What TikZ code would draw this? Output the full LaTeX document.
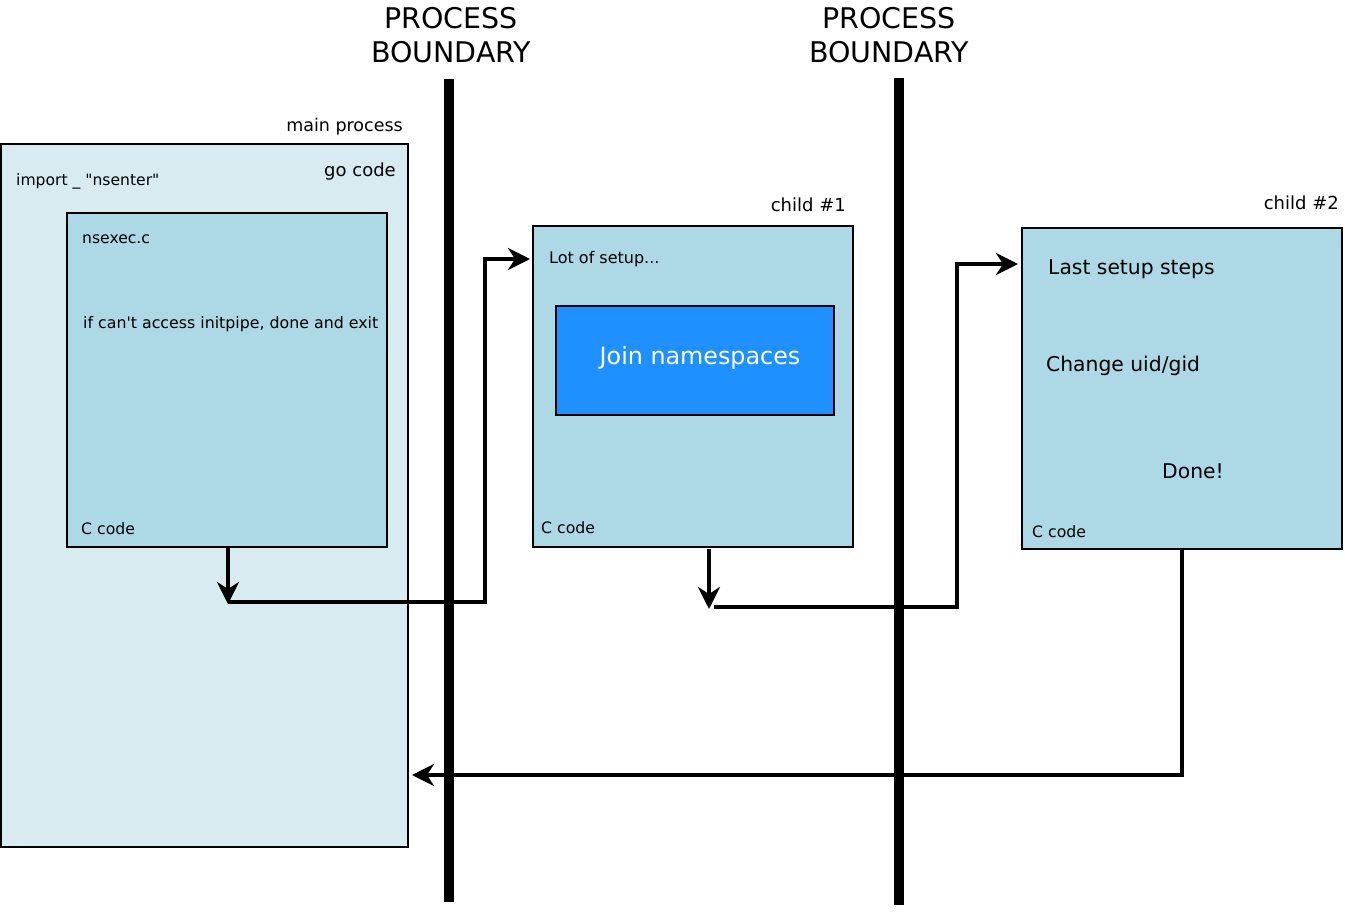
\documentclass[tikz,border=0pt]{standalone}
\usepackage{fontspec}
\setmainfont{DejaVu Sans}[Ligatures=TeXOff]
\usetikzlibrary{arrows.meta}
\definecolor{paleblue}{RGB}{215,235,241}
\definecolor{boxblue}{RGB}{173,216,230}
\definecolor{joinblue}{RGB}{30,144,255}
\tikzset{
  lbl/.style={inner sep=0pt, font=\fontsize{#1}{#1}\selectfont},
  titlelbl/.style={inner sep=0pt, align=center, font=\fontsize{28.5}{34}\selectfont},
  boxstyle/.style={draw=black, line width=1.6pt},
  conn/.style={line width=4.6pt},
  tipconn/.style={line width=4.6pt, -{Stealth[length=22pt,width=22pt,inset=7pt]}},
  bound/.style={line width=10pt},
}
\begin{document}
\begin{tikzpicture}[x=1pt,y=-1pt]
\useasboundingbox (0,0) rectangle (1345,911);
% boxes
\draw[boxstyle, fill=paleblue] (1,144) rectangle (408,847);
\draw[boxstyle, fill=boxblue] (67,213) rectangle (387,547);
\coordinate (nsB) at (228,547);
\draw[boxstyle, fill=boxblue] (533,226) rectangle (853,547);
\draw[boxstyle, fill=joinblue] (556,306) rectangle (834,415);
\draw[boxstyle, fill=boxblue] (1022,228) rectangle (1342,549);
% boundaries
\coordinate (b1t) at (449,79); \coordinate (b1b) at (449,902);
\coordinate (b2t) at (899,78); \coordinate (b2b) at (899,905);
\draw[bound] (b1t) -- (b1b);
\draw[bound] (b2t) -- (b2b);
\node[titlelbl, anchor=center] (t1) at (451,35) {PROCESS\\BOUNDARY};
\node[titlelbl, anchor=center] (t2) at (889,35) {PROCESS\\BOUNDARY};
% texts
\node[lbl=17.5, anchor=base east] (mp) at (403,131) {main process};
\node[lbl=18, anchor=base east] (gc) at (396,176) {go code};
\node[lbl=15.6, anchor=base west] (imp) at (16,185) {import \_ "nsenter"};
\node[lbl=15.6, anchor=base west] (nsx) at (82,243) {nsexec.c};
\node[lbl=15.8, anchor=base west] (ica) at (83,328) {if can't access initpipe, done and exit};
\node[lbl=15.7, anchor=base west] (cc1) at (81,534) {C code};
\node[lbl=18, anchor=base east] (ch1) at (846,211) {child \#1};
\node[lbl=16, anchor=base west] (los) at (549,263) {Lot of setup...};
\node[lbl=23.8, anchor=center, text=white] (jn) at (700,358) {Join namespaces};
\node[lbl=15.7, anchor=base west] (cc2) at (541,533) {C code};
\node[lbl=18, anchor=base east] (ch2) at (1339,209) {child \#2};
\node[lbl=20.3, anchor=base west] (lss) at (1048,274) {Last setup steps};
\node[lbl=20.3, anchor=base west] (cug) at (1046,371) {Change uid/gid};
\node[lbl=20.3, anchor=base west] (dn) at (1162,478) {Done!};
\node[lbl=15.7, anchor=base west] (cc3) at (1032,537) {C code};
% connectors
\coordinate (a1e) at (228,604);
\coordinate (c1in) at (530,259);
\draw[tipconn] (nsB) -- (a1e);
\draw[conn] (228,602) -- (485,602) -- (485,259) -- (487,259);
\draw[tipconn] (483,259) -- (c1in);
\coordinate (c1b) at (709,549);
\coordinate (a2e) at (709,609);
\draw[tipconn] (c1b) -- (a2e);
\coordinate (c2in) at (1018,264);
\draw[conn] (714,607) -- (957,607) -- (957,264);
\draw[tipconn] (955,264) -- (c2in);
\coordinate (c2b) at (1182,549);
\draw[conn] (c2b) -- (1182,775) -- (1180,775);
\draw[tipconn] (1184,775) -- (412,775);
\end{tikzpicture}
\end{document}
